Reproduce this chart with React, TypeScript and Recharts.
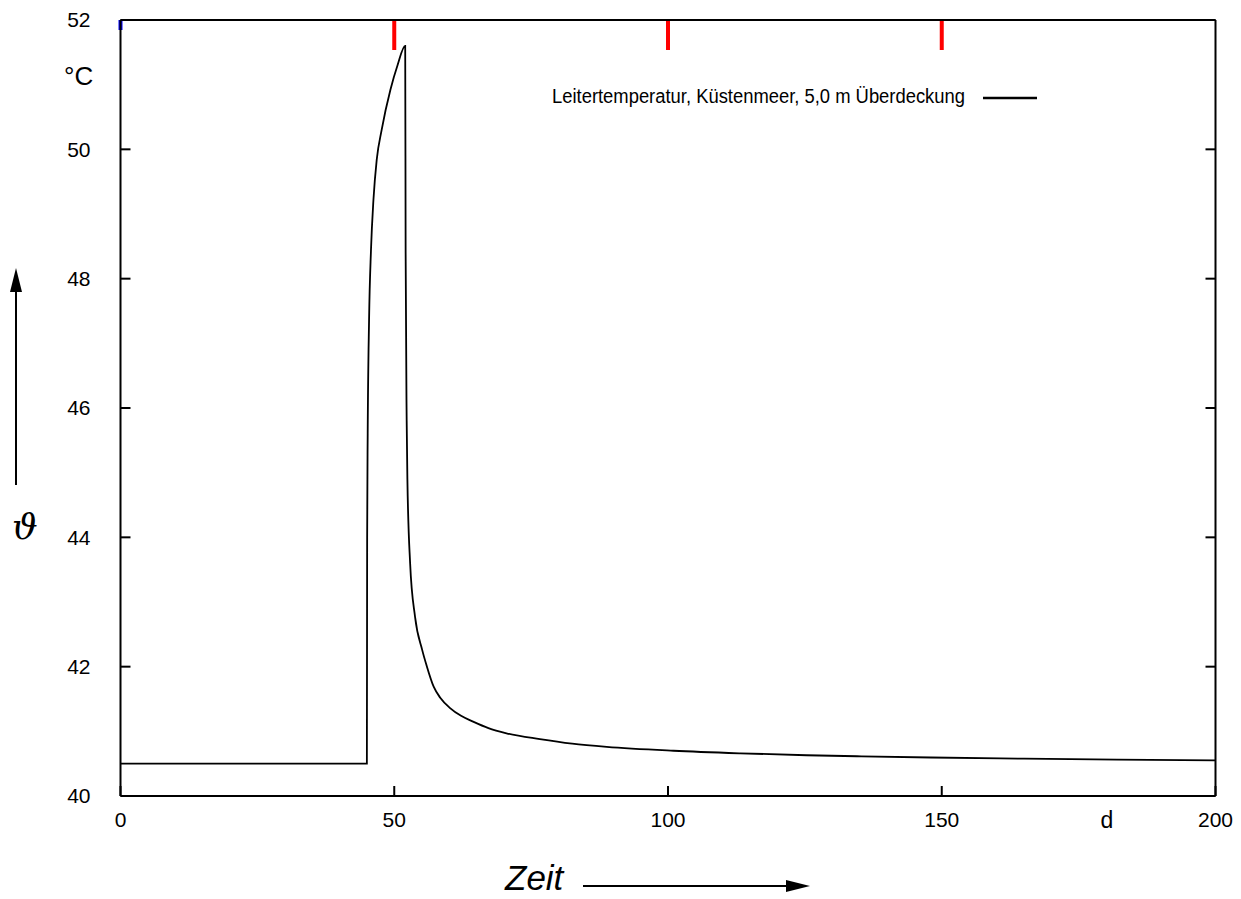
import { Legend, Line, LineChart, ReferenceLine, XAxis, YAxis } from 'recharts';

// Zeit in Tagen, Leitertemperatur in °C
const days = [
  0, 45, 45.05, 45.15, 45.4, 45.75, 46.2, 46.8, 47.7, 49.3, 50.6, 52.0, 52.08,
  52.27, 52.4, 52.9, 53.8, 55.1, 55.9, 57.2, 58.4, 60.2, 62.2, 64.4, 67.2, 70.5,
  76.6, 82.5, 88.8, 101, 113.2, 125.3, 134.5, 148, 165, 182, 200,
];
const temperature = [
  40.5, 40.5, 44.0, 45.6, 47.36, 48.44, 49.22, 49.84, 50.3, 50.92, 51.3, 51.6,
  48.4, 45.8, 44.9, 43.6, 42.77, 42.26, 42.02, 41.69, 41.52, 41.36, 41.24,
  41.15, 41.05, 40.97, 40.88, 40.81, 40.76, 40.7, 40.66, 40.63, 40.615, 40.595,
  40.578, 40.563, 40.55,
];
const xTicks = [0, 50, 100, 150, 200];
const yTicks = [40, 42, 44, 46, 48, 50, 52];
const seriesName = 'Leitertemperatur, Küstenmeer, 5,0 m Überdeckung';

const data = days.map((t, i) => ({ t, temp: temperature[i] }));

const FONT = '"Liberation Sans", Arial, sans-serif';
const axisStroke = { stroke: '#000', strokeWidth: 2 };
const tickFont = { fontSize: 21, fill: '#000', fontFamily: FONT };

const Y_MAX = yTicks[yTicks.length - 1];
const TOP_TICK_LEN = ((Y_MAX - yTicks[0]) * 10) / 776;

function LegendBox() {
  return (
    <svg width={500} height={30} style={{ display: 'block' }}>
      <text
        x={2}
        y={21}
        fontSize={19.5}
        fontFamily={FONT}
        fill="#000"
        textLength={413}
        lengthAdjust="spacingAndGlyphs"
      >
        {seriesName}
      </text>
      <line x1={433} x2={487} y1={16} y2={16} stroke="#000" strokeWidth={2.5} />
    </svg>
  );
}

export default function App() {
  return (
    <div
      style={{
        position: 'absolute',
        left: 0,
        top: 0,
        width: 1241,
        height: 899,
        background: '#fff',
        fontFamily: FONT,
      }}
    >
      <LineChart
        width={1241}
        height={899}
        data={data}
        margin={{ top: 19, right: 24.5, bottom: 73, left: 60.5 }}
      >
        <XAxis
          dataKey="t"
          type="number"
          domain={[0, 200]}
          ticks={xTicks}
          height={30}
          axisLine={axisStroke}
          tickLine={axisStroke}
          tickSize={-10}
          tickMargin={26}
          tick={tickFont}
          allowDataOverflow
        />
        <XAxis
          xAxisId="top"
          type="number"
          orientation="top"
          domain={[0, 200]}
          ticks={xTicks}
          interval={0}
          height={1}
          axisLine={axisStroke}
          tickLine={{ stroke: 'blue', strokeWidth: 4 }}
          tickSize={-10}
          tickFormatter={() => ''}
          allowDataOverflow
        />
        <YAxis
          type="number"
          domain={[40, 52]}
          ticks={yTicks}
          width={60}
          axisLine={axisStroke}
          tickLine={axisStroke}
          tickSize={-10}
          tickMargin={40}
          tick={tickFont}
          allowDataOverflow
        />
        <YAxis
          yAxisId="right"
          orientation="right"
          type="number"
          domain={[40, 52]}
          ticks={yTicks}
          interval={0}
          width={1}
          axisLine={axisStroke}
          tickLine={axisStroke}
          tickSize={-10}
          tickFormatter={() => ''}
          allowDataOverflow
        />
        {xTicks.slice(1, -1).map((v) => (
          <ReferenceLine
            key={`top-${v}`}
            segment={[
              { x: v, y: Y_MAX },
              { x: v, y: Y_MAX - 3 * TOP_TICK_LEN },
            ]}
            stroke="red"
            strokeWidth={4}
            ifOverflow="visible"
          />
        ))}
        <Legend
          layout="horizontal"
          verticalAlign="middle"
          align="center"
          wrapperStyle={{ left: 550, top: 82, width: 500, height: 30 }}
          content={() => <LegendBox />}
        />
        <Line
          type="monotone"
          dataKey="temp"
          name={seriesName}
          stroke="#000"
          strokeWidth={1.8}
          dot={false}
          isAnimationActive={false}
        />
      </LineChart>

      <svg
        width={1241}
        height={899}
        style={{ position: 'absolute', left: 0, top: 0, pointerEvents: 'none' }}
      >
        <text x={64} y={85} fontSize={26} fontFamily={FONT} fill="#000">
          °C
        </text>
        <text x={1107} y={828} fontSize={23} fontFamily={FONT} fill="#000" textAnchor="middle">
          d
        </text>
        <text
          x={12}
          y={539}
          fontSize={36}
          fontFamily='"DejaVu Serif", serif'
          fontStyle="italic"
          fill="#000"
        >
          ϑ
        </text>
        <line x1={16} x2={16} y1={485} y2={288} stroke="#000" strokeWidth={2} />
        <polygon points="16,268 10,292 22,292" fill="#000" />
        <text x={505} y={890} fontSize={35} fontFamily={FONT} fontStyle="italic" fill="#000">
          Zeit
        </text>
        <line x1={583} x2={790} y1={886} y2={886} stroke="#000" strokeWidth={2} />
        <polygon points="810,886 786,880 786,892" fill="#000" />
      </svg>
    </div>
  );
}
